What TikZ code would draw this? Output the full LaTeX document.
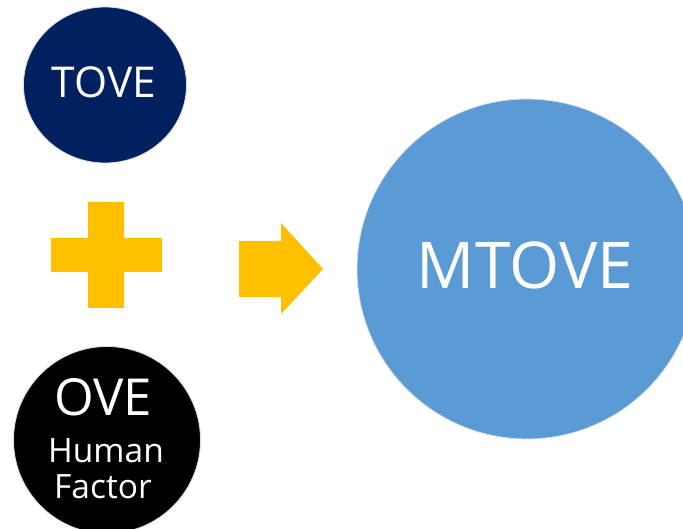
\documentclass[tikz,border=0pt]{standalone}
\usepackage{fontspec}
\setmainfont{Open Sans}
\usetikzlibrary{shapes.geometric}
\definecolor{navy}{HTML}{002060}
\definecolor{gold}{HTML}{FFC000}
\definecolor{skyblue}{HTML}{5B9BD5}
\begin{document}
\begin{tikzpicture}[x=1pt,y=-1pt,
  disc/.style={ellipse, draw=gray!25, line width=0.8pt, inner sep=0pt},
  label/.style={anchor=base, text=white, inner sep=0pt},
  shapefill/.style={fill=gold, draw=none}]
\useasboundingbox (0,0) rectangle (683,529);
% circles
\node[disc, fill=navy, minimum width=163pt, minimum height=156pt] (tove) at (105,85) {};
\node[disc, fill=black, minimum width=187pt, minimum height=187pt] (ove) at (107,440) {};
\node[disc, fill=skyblue, minimum width=340pt, minimum height=340pt] (mtove) at (527,269) {};
% texts
\node[label, font=\fontsize{42.5}{46}\selectfont] (tovet) at (104,98) {TOVE};
\node[label, font=\fontsize{51}{56}\selectfont] (ovet) at (103,415) {OVE};
\node[label, font=\fontsize{33.5}{38}\selectfont] (humant) at (106,462) {Human};
\node[label, font=\fontsize{33.5}{38}\selectfont] (factort) at (103,498) {Factor};
\node[label, font=\fontsize{64.5}{70}\selectfont] (mtovet) at (525,289) {MTOVE};
% plus
\fill[shapefill] (88,202) -- (124,202) -- (124,238) -- (162,238) -- (162,272) -- (124,272)
  -- (124,308) -- (88,308) -- (88,272) -- (51,272) -- (51,238) -- (88,238) -- cycle;
% arrow
\fill[shapefill] (239,241) -- (281,241) -- (281,223) -- (323,269) -- (281,314) -- (281,297)
  -- (239,297) -- cycle;
\end{tikzpicture}
\end{document}
